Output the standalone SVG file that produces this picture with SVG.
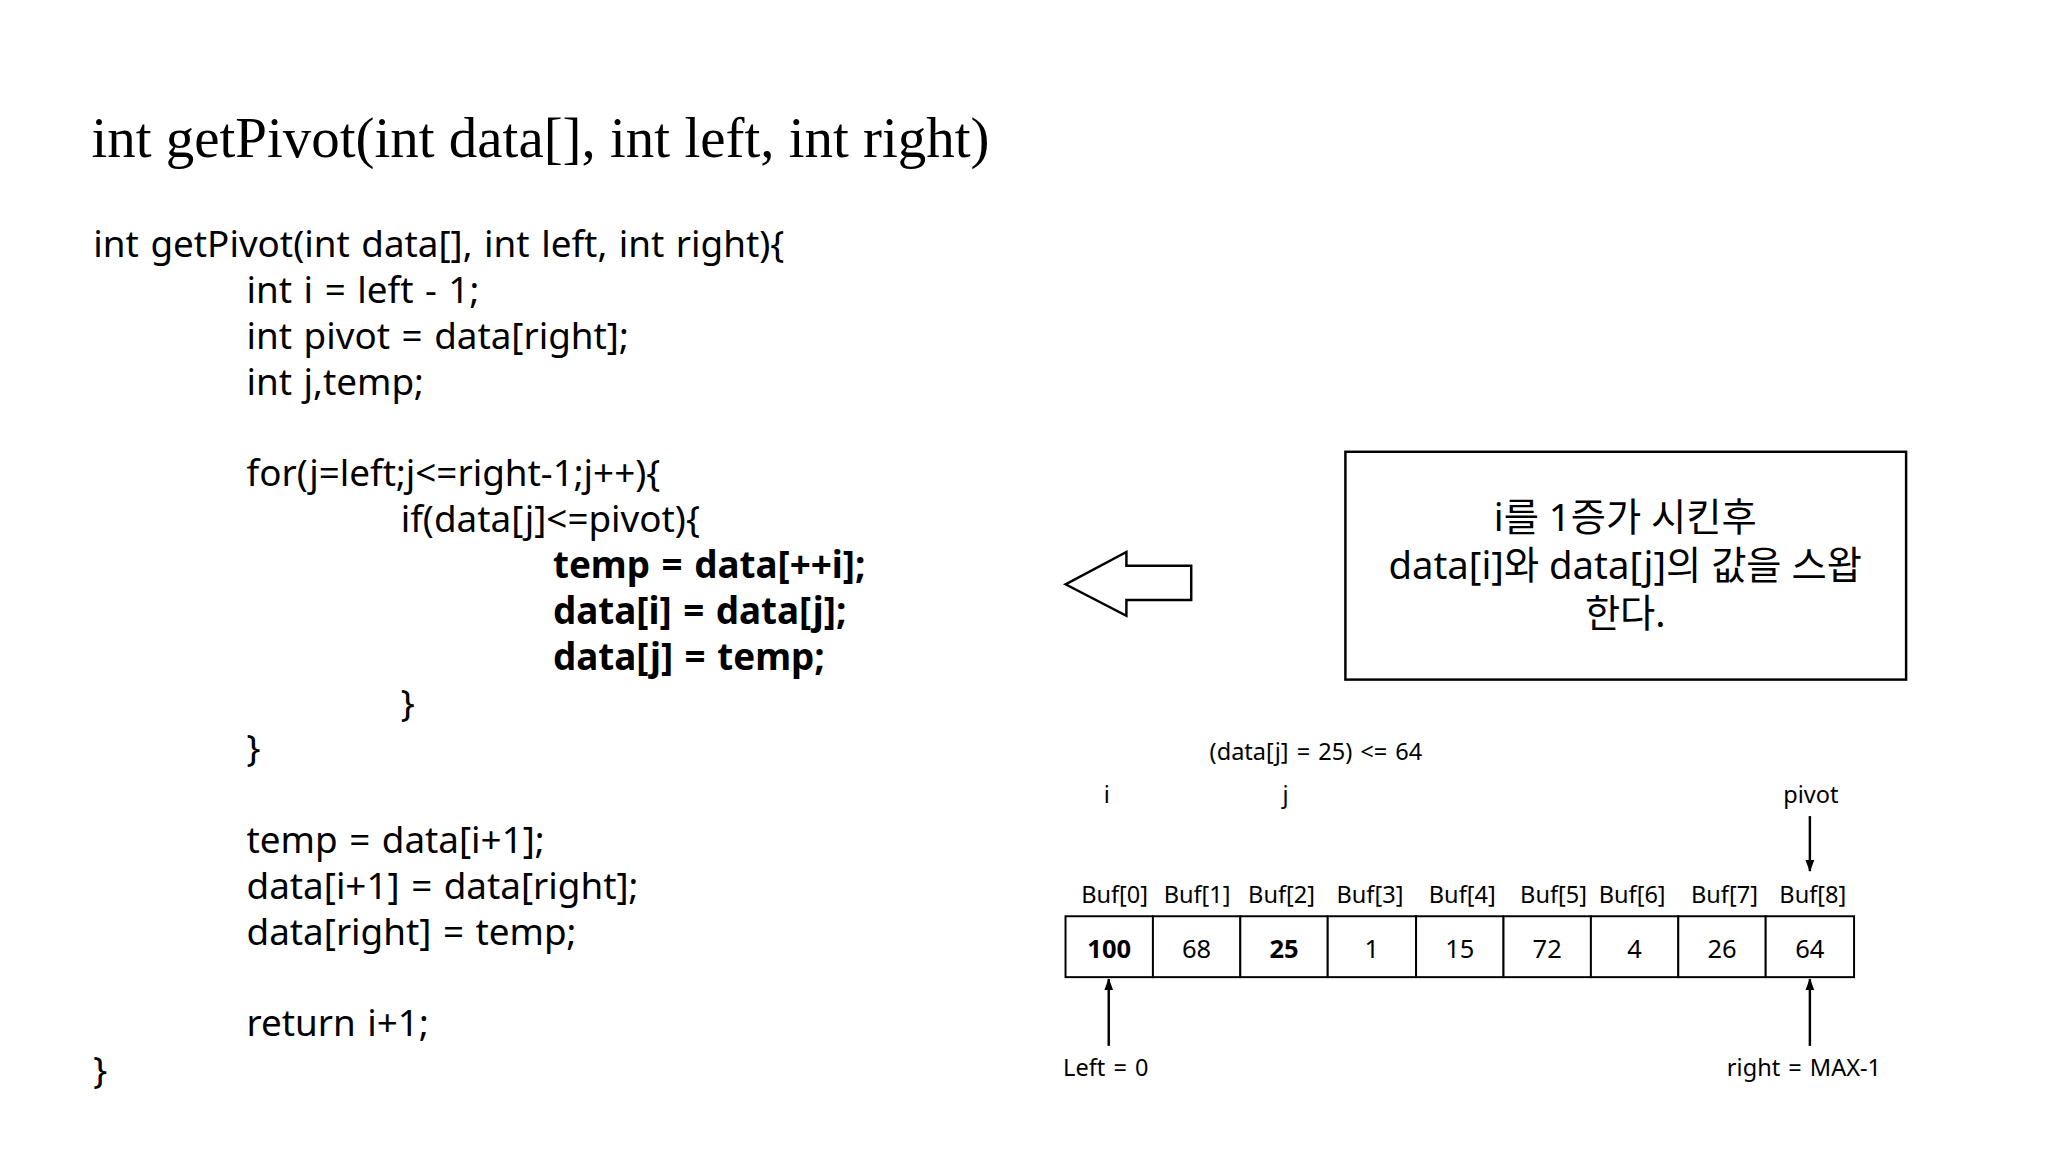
<svg xmlns="http://www.w3.org/2000/svg" width="2048" height="1152" viewBox="0 0 2048 1152">
<style>
.t{font-family:"Liberation Serif",serif;font-size:58px;fill:#000}
.c{font-family:"Noto Sans","Noto Sans CJK KR",sans-serif;font-size:37.5px;fill:#000;word-spacing:2px}
.b{font-weight:bold}
.k{font-family:"Noto Sans","Noto Sans CJK KR",sans-serif;font-size:39px;fill:#000;text-anchor:middle}
.s{font-family:"Noto Sans","Noto Sans CJK KR",sans-serif;font-size:24px;fill:#000;text-anchor:middle;word-spacing:2px}
.v{font-family:"Noto Sans","Noto Sans CJK KR",sans-serif;font-size:26px;fill:#000;text-anchor:middle}
.cell{fill:#fff;stroke:#000;stroke-width:2}
.ln{stroke:#000;stroke-width:2.5;fill:none}
</style>
<defs><marker id="ah" markerWidth="12" markerHeight="16" refX="15" refY="6" orient="auto" markerUnits="userSpaceOnUse" viewBox="0 0 16 12"><path d="M0,0 L16,6 L0,12 z" fill="#000"/></marker></defs>
<rect width="2048" height="1152" fill="#fff"/>
<g transform="translate(3,3) scale(0.982)">
<g id="title"><text class="t" x="90" y="157">int getPivot(int data[], int left, int right)</text></g>
<g id="code">
<text class="c" x="92" y="259">int getPivot(int data[], int left, int right){</text>
<text class="c" x="248" y="306">int i = left - 1;</text>
<text class="c" x="248" y="352">int pivot = data[right];</text>
<text class="c" x="248" y="399">int j,temp;</text>
<text class="c" x="248" y="492">for(j=left;j&lt;=right-1;j++){</text>
<text class="c" x="405" y="539">if(data[j]&lt;=pivot){</text>
<text class="c b" x="560" y="586">temp = data[++i];</text>
<text class="c b" x="560" y="632">data[i] = data[j];</text>
<text class="c b" x="560" y="679">data[j] = temp;</text>
<text class="c" x="405" y="726">}</text>
<text class="c" x="248" y="772">}</text>
<text class="c" x="248" y="866">temp = data[i+1];</text>
<text class="c" x="248" y="912">data[i+1] = data[right];</text>
<text class="c" x="248" y="959">data[right] = temp;</text>
<text class="c" x="248" y="1052">return i+1;</text>
<text class="c" x="92" y="1100">}</text>
</g>
<g id="arrow"><polygon points="1082,592 1144,559 1144,573 1210,573 1210,608 1144,608 1144,624" fill="#fff" stroke="#000" stroke-width="2.5"/></g>
<g id="note"><rect x="1367" y="457" width="571" height="232" fill="#fff" stroke="#000" stroke-width="2.5"/>
<text class="k" x="1652" y="538">i를 1증가 시킨후</text>
<text class="k" x="1652" y="587">data[i]와 data[j]의 값을 스왑</text>
<text class="k" x="1652" y="635">한다.</text></g>
<g id="labels">
<text class="s" x="1337" y="771">(data[j] = 25) &lt;= 64</text>
<text class="s" x="1124" y="815">i</text>
<text class="s" x="1306" y="815">j</text>
<text class="s" x="1841" y="815">pivot</text>
<text class="s" x="1123" y="1093">Left = 0</text>
<text class="s" x="1834" y="1093">right = MAX-1</text>
</g>
<g id="array">
<rect class="cell" x="1082" y="930" width="89" height="62"/><text class="v b" x="1126.5" y="972">100</text>
<rect class="cell" x="1171" y="930" width="89" height="62"/><text class="v" x="1215.5" y="972">68</text>
<rect class="cell" x="1260" y="930" width="89" height="62"/><text class="v b" x="1304.5" y="972">25</text>
<rect class="cell" x="1349" y="930" width="90" height="62"/><text class="v" x="1394" y="972">1</text>
<rect class="cell" x="1439" y="930" width="89" height="62"/><text class="v" x="1483.5" y="972">15</text>
<rect class="cell" x="1528" y="930" width="89" height="62"/><text class="v" x="1572.5" y="972">72</text>
<rect class="cell" x="1617" y="930" width="89" height="62"/><text class="v" x="1661.5" y="972">4</text>
<rect class="cell" x="1706" y="930" width="89" height="62"/><text class="v" x="1750.5" y="972">26</text>
<rect class="cell" x="1795" y="930" width="90" height="62"/><text class="v" x="1840" y="972">64</text>
<text class="s" x="1132" y="917">Buf[0]</text>
<text class="s" x="1216" y="917">Buf[1]</text>
<text class="s" x="1302" y="917">Buf[2]</text>
<text class="s" x="1392" y="917">Buf[3]</text>
<text class="s" x="1486" y="917">Buf[4]</text>
<text class="s" x="1579" y="917">Buf[5]</text>
<text class="s" x="1659" y="917">Buf[6]</text>
<text class="s" x="1753" y="917">Buf[7]</text>
<text class="s" x="1843" y="917">Buf[8]</text>
</g>
<g id="connectors">
<line class="ln" x1="1840" y1="828" x2="1840" y2="884" marker-end="url(#ah)"/>
<line class="ln" x1="1126" y1="1062" x2="1126" y2="994" marker-end="url(#ah)"/>
<line class="ln" x1="1840" y1="1062" x2="1840" y2="994" marker-end="url(#ah)"/>
</g>
</g>
</svg>
